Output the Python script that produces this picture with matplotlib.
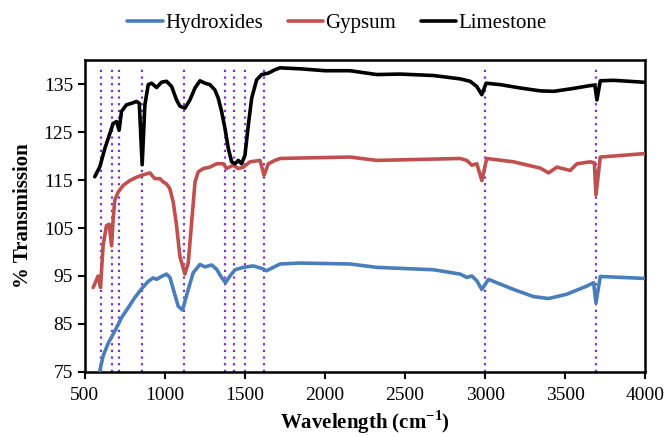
import matplotlib
matplotlib.use("Agg")
import matplotlib.pyplot as plt

# ---- data ----
lime_x = [562, 594, 625, 656, 667, 677, 698, 714, 729, 760, 792, 823, 840, 858, 875, 896, 917, 948, 979,
          1010, 1042, 1073, 1094, 1125, 1156, 1188, 1219, 1250, 1281, 1312, 1333, 1354, 1375, 1396, 1417,
          1438, 1458, 1479, 1500, 1521, 1542, 1573, 1604, 1646, 1687, 1719, 1844, 2000, 2156, 2323, 2469,
          2677, 2844, 2906, 2948, 2979, 3006, 3094, 3219, 3344, 3427, 3531, 3656, 3685, 3698, 3719, 3802, 3990]
lime_y = [115.7, 117.8, 121.6, 124.7, 125.8, 126.8, 127.2, 125.4, 129.3, 130.7, 131.0, 131.4, 131.0, 118.2,
          130.7, 134.9, 135.2, 134.3, 135.4, 135.6, 134.5, 131.7, 130.4, 130.0, 131.7, 134.2, 135.7, 135.2,
          134.9, 133.8, 132.1, 129.3, 125.8, 121.6, 118.8, 118.4, 119.1, 118.4, 120.2, 126.5, 132.1, 135.9,
          137.0, 137.3, 138.0, 138.4, 138.2, 137.8, 137.8, 137.0, 137.1, 136.8, 136.1, 135.6, 134.5, 132.8,
          135.2, 134.9, 134.2, 133.6, 133.5, 134.0, 134.7, 134.8, 131.7, 135.7, 135.8, 135.4]

gyp_x = [552, 583, 598, 614, 635, 652, 667, 677, 687, 708, 740, 781, 823, 865, 906, 937, 969, 990, 1010,
         1031, 1052, 1073, 1094, 1125, 1146, 1167, 1188, 1208, 1240, 1281, 1323, 1365, 1385, 1427, 1458,
         1490, 1531, 1594, 1619, 1646, 1687, 1719, 1844, 2156, 2323, 2844, 2885, 2917, 2948, 2979, 3010,
         3177, 3344, 3396, 3448, 3531, 3573, 3656, 3682, 3692, 3719, 3990]
gyp_y = [92.6, 95.0, 92.6, 101.3, 105.5, 105.8, 101.3, 106.9, 110.8, 112.5, 113.9, 114.9, 115.6, 116.1,
         116.5, 115.3, 115.3, 114.6, 114.2, 113.2, 110.4, 105.5, 99.0, 95.4, 97.8, 106.2, 114.6, 116.7,
         117.4, 117.7, 118.4, 118.4, 117.4, 118.1, 117.4, 117.7, 118.8, 119.1, 116.0, 118.4, 119.1, 119.5,
         119.6, 119.8, 119.1, 119.5, 119.1, 118.1, 118.4, 114.9, 119.5, 118.8, 117.5, 116.5, 117.7, 117.0,
         118.4, 118.8, 118.6, 111.9, 119.8, 120.5]

hyd_x = [594, 614, 646, 687, 729, 771, 812, 854, 896, 927, 948, 979, 1010, 1031, 1052, 1083, 1110, 1146,
         1177, 1219, 1250, 1292, 1323, 1354, 1379, 1406, 1438, 1490, 1552, 1604, 1635, 1677, 1719, 1844,
         2156, 2323, 2677, 2844, 2885, 2917, 2948, 2979, 3021, 3177, 3302, 3396, 3510, 3635, 3677, 3692,
         3719, 3990]
hyd_y = [75.3, 78.3, 81.0, 83.5, 86.3, 88.4, 90.5, 92.3, 93.9, 94.6, 94.3, 94.9, 95.4, 94.7, 92.3, 88.7,
         87.9, 92.2, 95.7, 97.4, 96.9, 97.3, 96.4, 94.7, 93.6, 95.0, 96.3, 96.8, 97.1, 96.6, 96.1, 96.8,
         97.5, 97.7, 97.5, 96.8, 96.3, 95.4, 94.7, 95.0, 94.0, 92.2, 94.3, 92.2, 90.7, 90.3, 91.2, 92.9,
         93.6, 89.4, 94.9, 94.5]

peak_lines = [598, 667, 714, 858, 1120, 1375, 1433, 1500, 1620, 3000, 3692]

x_ticks = [500, 1000, 1500, 2000, 2500, 3000, 3500, 4000]
y_ticks = [75, 85, 95, 105, 115, 125, 135]

plt.rcParams['font.family'] = ['Liberation Serif', 'DejaVu Serif']
plt.rcParams['mathtext.fontset'] = 'custom'
plt.rcParams['mathtext.rm'] = 'Liberation Serif:bold'
plt.rcParams['mathtext.bf'] = 'Liberation Serif:bold'

fig = plt.figure(figsize=(6.68, 4.36), dpi=100)
ax = fig.add_axes([0.127, 0.147, 0.839, 0.715])

for xv in peak_lines:
    ax.axvline(xv, ymin=0, ymax=0.975, color='#7b2fd0', linestyle=(0, (1, 2)), linewidth=1.6, zorder=1)

ax.plot(hyd_x, hyd_y, color='#4a7ebb', linewidth=2.6, label='Hydroxides', zorder=3,
        solid_joinstyle='round', solid_capstyle='round')
ax.plot(gyp_x, gyp_y, color='#c0504d', linewidth=2.6, label='Gypsum', zorder=3,
        solid_joinstyle='round', solid_capstyle='round')
ax.plot(lime_x, lime_y, color='black', linewidth=2.6, label='Limestone', zorder=3,
        solid_joinstyle='round', solid_capstyle='round')

ax.set_xlim(500, 4000)
ax.set_ylim(75, 140)
ax.set_xticks(x_ticks)
ax.set_yticks(y_ticks)
ax.tick_params(axis='both', direction='out', length=5, width=1.5, labelsize=14)
ax.tick_params(axis='x', pad=6)
for s in ax.spines.values():
    s.set_linewidth(1.8)

ax.set_xlabel('Wavelength (cm$^{-1}$)', fontsize=15, fontweight='bold', labelpad=3)
ax.set_ylabel('% Transmission', fontsize=15, fontweight='bold', labelpad=8)

ax.legend(loc='lower center', bbox_to_anchor=(0.45, 1.02), ncol=3, frameon=False, fontsize=15,
          handlelength=1.7, handletextpad=0.1, columnspacing=1.2, borderaxespad=0.6)

fig.savefig('out.png', dpi=100)
